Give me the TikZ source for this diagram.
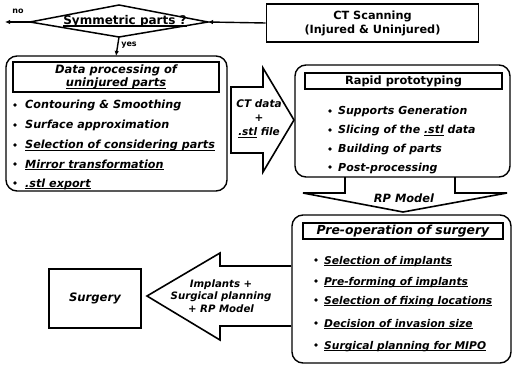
\documentclass[tikz,border=0pt]{standalone}
\usepackage{fontspec}
\setmainfont{DejaVu Sans}
\usetikzlibrary{arrows.meta}
\newcommand{\fs}[2]{\fontsize{#1}{#2}\selectfont}
\newcommand{\myul}[1]{\setbox0\hbox{#1}\rlap{\rule[-2.3pt]{\wd0}{1.1pt}}\box0\relax}
\begin{document}
\begin{tikzpicture}[x=1pt,y=-1pt,
  base/.style={inner sep=0pt},
  ditem/.style={base,anchor=base west,font=\bfseries\itshape\fs{11.2}{13}},
  ritem/.style={base,anchor=base west,font=\bfseries\itshape\fs{11}{13}},
  pitem/.style={base,anchor=base west,font=\bfseries\itshape\fs{10.7}{13}},
  box/.style={draw,line width=1.7pt},
  rbox/.style={draw,line width=1.4pt,rounded corners=11pt},
  blockarrow/.style={draw,line width=1.6pt,line join=miter},
  conn/.style={line width=1.4pt,-{Latex[length=5pt,width=4.5pt]}},
  smalltxt/.style={base,font=\bfseries\fs{8}{9}},
  bullet/.style={circle,fill,inner sep=0pt,minimum size=3.6pt}]
\useasboundingbox (0,0) rectangle (513,366);
\fill[white] (0,0) rectangle (513,366);

% Decision diamond
\coordinate (symL) at (30,22);
\coordinate (symT) at (119,5);
\coordinate (symR) at (208,22);
\coordinate (symB) at (119,37);
\draw[line width=1.5pt] (symL) -- (symT) -- (symR) -- (symB) -- cycle;
\node[base,font=\bfseries\fs{12}{14}] (sym) at (125,21) {\myul{Symmetric parts ?}};
\coordinate (noend) at (5,22);
\draw[conn] (symL) -- (noend);
\node[smalltxt] (no) at (18,11) {no};

% CT scanning
\node[box,minimum width=212pt,minimum height=38pt,align=center,font=\bfseries\fs{11.3}{14}] (ct) at (372.5,23) {CT Scanning\\(Injured \& Uninjured)};
\draw[conn] (ct.west) -- (symR);

% Data processing box
\draw[rbox] (6,56) rectangle (227,191);
\node[box,line width=1.5pt,minimum width=206pt,minimum height=30pt,align=center,font=\bfseries\itshape\fs{11.5}{12.5}] (dp) at (116,77) {Data processing of\\\myul{uninjured parts}};
\draw[conn] (symB) -- (dp.north |- 0,56) node[pos=0.45,right=3pt,smalltxt] (yes) {yes};

\node[bullet] at (15,105) {}; \node[ditem] (d1) at (25,109) {Contouring \& Smoothing};
\node[bullet] at (15,125) {}; \node[ditem] (d2) at (25,129) {Surface approximation};
\node[bullet] at (15,145) {}; \node[ditem] (d3) at (25,149) {\myul{Selection of considering parts}};
\node[bullet] at (15,164) {}; \node[ditem] (d4) at (25,168) {\myul{Mirror transformation}};
\node[bullet] at (15,183) {}; \node[ditem] (d5) at (25,187) {\myul{.stl export}};

% CT data arrow
\draw[blockarrow] (231,87) -- (263,87) -- (263,68) -- (294,120) -- (263,172) -- (263,153) -- (231,153) -- cycle;
\node[base,align=center,font=\bfseries\itshape\fs{10.5}{14}] (ctdata) at (259,119) {CT data\\+\\\myul{.stl} file};

% Rapid prototyping
\draw[rbox] (295,65) rectangle (510,177);
\node[box,line width=1.5pt,minimum width=197pt,minimum height=16pt,base,font=\bfseries\fs{11.4}{13}] (rp) at (403.5,81) {Rapid prototyping};
\node[bullet] at (330,111) {}; \node[ritem] (r1) at (338,115) {Supports Generation};
\node[bullet] at (330,130) {}; \node[ritem] (r2) at (338,134) {Slicing of the \myul{.stl} data};
\node[bullet] at (330,149) {}; \node[ritem] (r3) at (338,153) {Building of parts};
\node[bullet] at (330,167) {}; \node[ritem] (r4) at (338,171) {Post-processing};

% RP Model arrow
\draw[blockarrow] (345,177) -- (345,193) -- (303,193) -- (403,212) -- (507,193) -- (455,193) -- (455,177);
\node[base,font=\bfseries\itshape\fs{11.4}{13}] (rpm) at (404,198) {RP Model};

% Pre-operation
\draw[rbox] (292,215) rectangle (511,363);
\node[box,line width=1.5pt,minimum width=200pt,minimum height=16pt,base,font=\bfseries\itshape\fs{12.4}{14}] (po) at (403,231) {Pre-operation of surgery};
\node[bullet] at (316,260) {}; \node[pitem] (p1) at (324,264) {\myul{Selection of implants}};
\node[bullet] at (316,281) {}; \node[pitem] (p2) at (324,285) {\myul{Pre-forming of implants}};
\node[bullet] at (316,300) {}; \node[pitem] (p3) at (324,304) {\myul{Selection of fixing locations}};
\node[bullet] at (316,323) {}; \node[pitem] (p4) at (324,327) {\myul{Decision of invasion size}};
\node[bullet] at (316,345) {}; \node[pitem] (p5) at (324,349) {\myul{Surgical planning for MIPO}};

% Implants arrow
\draw[blockarrow] (291,266) -- (220,266) -- (220,253) -- (147,296) -- (220,340) -- (220,326) -- (291,326);
\node[base,align=center,font=\bfseries\itshape\fs{10.2}{12.8}] (impl) at (221,296) {Implants +\\Surgical planning\\+ RP Model};

% Surgery
\node[box,minimum width=92pt,minimum height=59pt,font=\bfseries\itshape\fs{11.6}{13}] (surg) at (95,298.5) {Surgery};
\end{tikzpicture}
\end{document}
